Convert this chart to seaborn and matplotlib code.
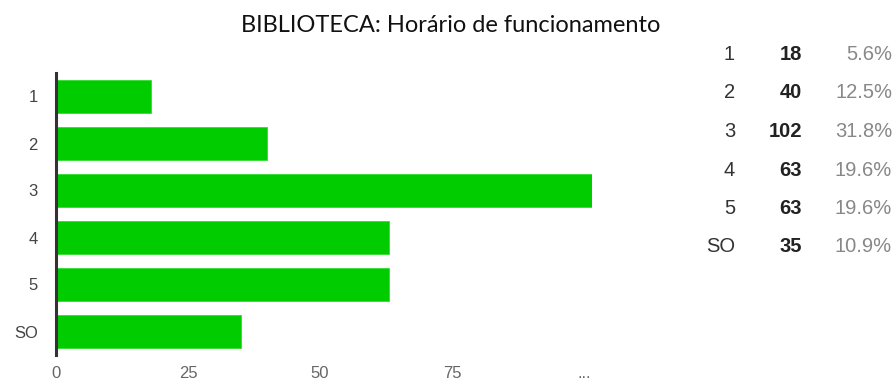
import matplotlib
matplotlib.use("Agg")
import matplotlib.pyplot as plt
import seaborn as sns
import pandas as pd

# Survey answers for library opening hours
categories = ["1", "2", "3", "4", "5", "SO"]
counts = [18, 40, 102, 63, 63, 35]
x_ticks = [0, 25, 50, 75, 100]
x_tick_labels = ["0", "25", "50", "75", "..."]
title = "BIBLIOTECA: Horário de funcionamento"

sns.set_theme(style="white")
plt.rcParams["font.family"] = ["Liberation Sans", "DejaVu Sans"]

W, H = 896, 383
fig = plt.figure(figsize=(W / 100, H / 100), dpi=100)

# axes placed in pixel coordinates
left, right, top, bottom = 56, 592, 73, 355
ax = fig.add_axes([left / W, 1 - bottom / H, (right - left) / W, (bottom - top) / H])

df = pd.DataFrame({"cat": categories, "n": counts})
sns.barplot(data=df, x="n", y="cat", color="#00cc00", saturation=1,
            width=0.7, ax=ax, edgecolor="#33dd33", linewidth=0.6)

ax.set_xlim(0, 101.5)
ax.set_ylim(len(categories) - 0.5, -0.5)
ax.set_xticks(x_ticks)
ax.set_xticklabels(x_tick_labels, color="#666666", fontsize=12)
ax.tick_params(axis="y", labelcolor="#444444", labelsize=12, length=0, pad=13)
ax.tick_params(axis="x", length=0, pad=8)
ax.set_xlabel("")
ax.set_ylabel("")
for side in ["top", "right", "bottom"]:
    ax.spines[side].set_visible(False)
ax.spines["left"].set_color("#333333")
ax.spines["left"].set_linewidth(2.2)
ax.grid(False)

fig.text(450.5 / W, 1 - 25 / H, title, ha="center", va="center",
         fontsize=17, color="#111111", family=["Lato", "DejaVu Sans"])

# summary table on the right
total = sum(counts)
row_y = [55, 93, 132, 170, 208, 247]
for cat, n, y in zip(categories, counts, row_y):
    yy = 1 - y / H
    fig.text(735 / W, yy, cat, ha="right", va="center", fontsize=14.5, color="#333333")
    fig.text(802 / W, yy, str(n), ha="right", va="center", fontsize=14.5,
             color="#222222", fontweight="bold")
    fig.text(892 / W, yy, f"{100 * n / total:.1f}%", ha="right", va="center",
             fontsize=14.5, color="#888888")

fig.savefig("out.png", dpi=100)
